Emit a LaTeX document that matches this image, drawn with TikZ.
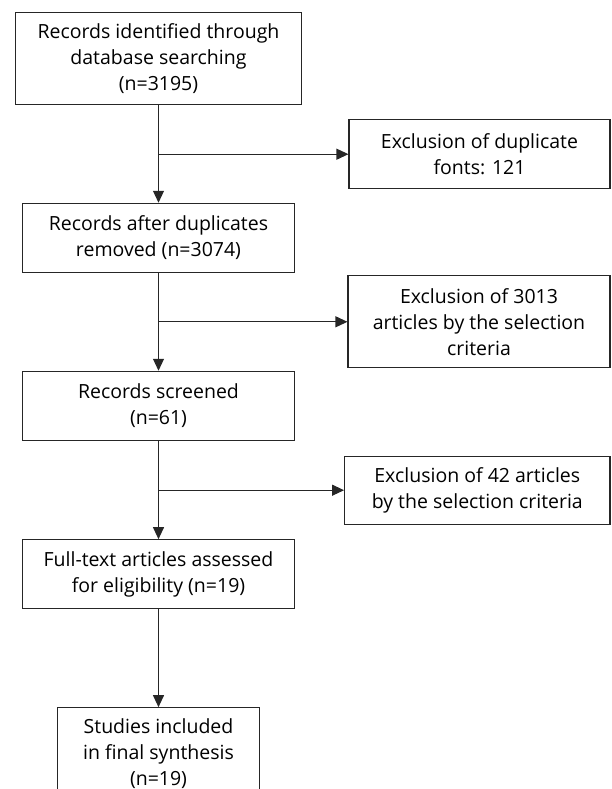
\documentclass[tikz,border=0pt]{standalone}
\usepackage{fontspec}
\setmainfont{Open Sans}
\usetikzlibrary{arrows.meta}
\begin{document}
\begin{tikzpicture}[x=1pt,y=-1pt,>={Triangle[width=11pt,length=12pt]},
  box/.style={draw=black!85,line width=1.1pt,align=center,inner sep=0pt,
    font=\fontsize{19.5}{26}\selectfont},
  link/.style={draw=black!85,line width=1.1pt,->}]
\useasboundingbox (0,0) rectangle (611,789);

% main column
\node[box,minimum width=286pt,minimum height=91.6pt] (ident) at (158.5,58.5)
  {Records identified through\\database searching\\(n=3195)};
\node[box,minimum width=271.3pt,minimum height=69pt] (dupl) at (158.5,237.8)
  {Records after duplicates\\removed (n=3074)};
\node[box,minimum width=271.3pt,minimum height=69pt] (screen) at (158.5,405.8)
  {Records screened\\(n=61)};
\node[box,minimum width=271.3pt,minimum height=68.6pt] (full) at (158.5,574)
  {Full-text articles assessed\\for eligibility (n=19)};
\node[box,minimum width=202.7pt,minimum height=91.6pt] (incl) at (158.5,753.5)
  {Studies included\\in final synthesis\\(n=19)};

% exclusions
\node[box,minimum width=261pt,minimum height=69.4pt] (excl1) at (479.5,154.2)
  {Exclusion of duplicate\\fonts: 121};
\node[box,minimum width=262pt,minimum height=92pt] (excl2) at (479,321.8)
  {Exclusion of 3013\\articles by the selection\\criteria};
\node[box,minimum width=265.4pt,minimum height=68.3pt] (excl3) at (477.3,490.2)
  {Exclusion of 42 articles\\by the selection criteria};

\draw[link](ident)--(dupl);
\draw[link](dupl)--(screen);
\draw[link](screen)--(full);
\draw[link](full)--(incl);

\draw[link](ident.south |- excl1)--(excl1);
\draw[link](dupl.south |- excl2)--(excl2);
\draw[link](screen.south |- excl3)--(excl3);
\end{tikzpicture}
\end{document}
